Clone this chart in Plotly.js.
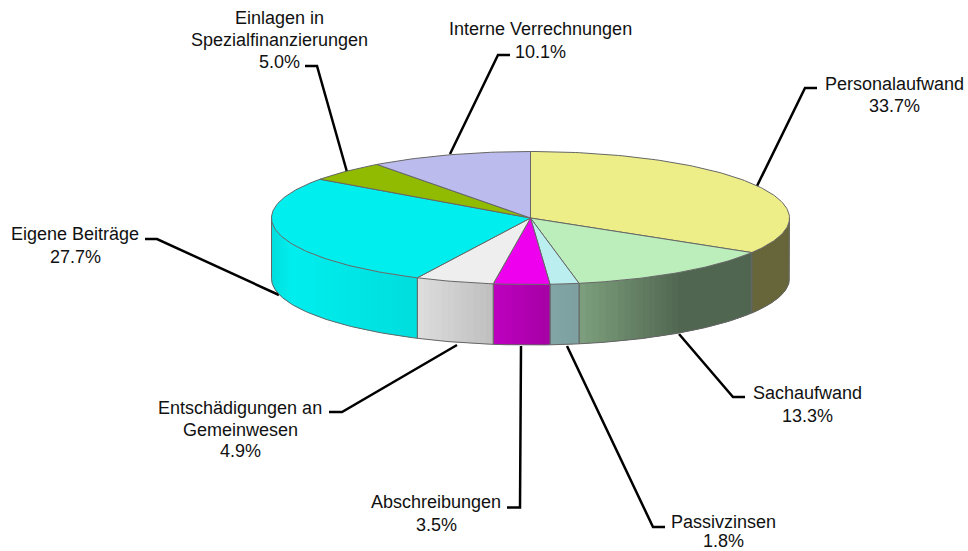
<!DOCTYPE html>
<html>
<head>
<meta charset="utf-8">
<script src="https://cdn.plot.ly/plotly-3.0.1.min.js"></script>
<style>html,body{margin:0;padding:0;background:#fff}#chart{width:968px;height:551px}</style>
</head>
<body>
<div id="chart"></div>
<script>
// Data
const categories = ["Personalaufwand","Sachaufwand","Passivzinsen","Abschreibungen","Entschädigungen an Gemeinwesen","Eigene Beiträge","Einlagen in Spezialfinanzierungen","Interne Verrechnungen"];
const shares = [33.7,13.3,1.8,3.5,4.9,27.7,5.0,10.1];
const labelLines = [["Personalaufwand"],["Sachaufwand"],["Passivzinsen"],["Abschreibungen"],["Entschädigungen an","Gemeinwesen"],["Eigene Beiträge"],["Einlagen in","Spezialfinanzierungen"],["Interne Verrechnungen"]];
const topColors = ["#eeee88","#bbeebb","#bbeeee","#ee00ee","#eeeeee","#00eeee","#90bb00","#bbbbee"];

// Layout of the drawing, in pixel-scaled axis units
const cx = 530.5, cy = 218, rx = 259, ry = 66.5, depth = 60.5;
const labelX = [894,807,723,436,240,75,279,540];
const labelY = [[84,106],[393,416],[522,541],[502,525],[408,430,451],[234,257],[18,40,62],[29,52]];
const leaderPaths = [
  [[757,186],[805,88],[817,88]],
  [[679,334],[733,397],[745,397]],
  [[567,346],[653,527],[665,527]],
  [[521,346],[520,507.5],[507,507.5]],
  [[457,345],[342,412],[329,412]],
  [[279,295],[157,239],[145,239]],
  [[347,172],[317,66],[305,66]],
  [[450,154],[498,55],[510,55]]
];
const shadeX = [272,292,417,494,550,580,680,790];
const shadeF = [0.93,1,0.93,0.80,0.69,0.67,0.43,0.43];
const outline = "#666666";

function px(deg){ return cx + rx*Math.sin(deg*Math.PI/180); }
function py(deg,dy){ return cy - ry*Math.cos(deg*Math.PI/180) + (dy||0); }
function shade(x){
  for(let i=1;i<shadeX.length;i++){
    if(x<=shadeX[i]){ const t=(x-shadeX[i-1])/(shadeX[i]-shadeX[i-1]); return shadeF[i-1]+t*(shadeF[i]-shadeF[i-1]); }
  }
  return shadeF[shadeF.length-1];
}
function scaled(hex,f){
  const n=parseInt(hex.slice(1),16);
  return "rgb("+[(n>>16)&255,(n>>8)&255,n&255].map(c=>Math.round(c*f)).join(",")+")";
}
function arc(a0,a1){ const out=[]; const n=Math.max(1,Math.ceil(Math.abs(a1-a0))); for(let i=0;i<=n;i++) out.push(a0+(a1-a0)*i/n); return out; }

const traces=[];
const total = shares.reduce((a,b)=>a+b,0);
let acc=0;
const spans = shares.map(v=>{ const a0=acc/total*360; acc+=v; return [a0,acc/total*360]; });

// Side walls: shaded strips, only where the wall faces the viewer.
// Each strip runs on to the next one's far edge, so the next covers it without a seam.
spans.forEach((s,i)=>{
  const a0=Math.max(s[0],90), a1=Math.min(s[1],270);
  if(a1<=a0) return;
  const n=Math.ceil((a1-a0)/1.5);
  for(let k=0;k<n;k++){
    const b0=a0+(a1-a0)*k/n, b1=a0+(a1-a0)*(k+1)/n, b2=a0+(a1-a0)*Math.min(k+2,n)/n;
    const col=scaled(topColors[i],shade((px(b0)+px(b1))/2));
    const arcA=arc(b0,b2);
    const xs=arcA.map(px).concat(arcA.slice().reverse().map(px));
    const ys=arcA.map(a=>py(a)).concat(arcA.slice().reverse().map(a=>py(a,depth)));
    traces.push({type:"scatter",mode:"none",x:xs,y:ys,fill:"toself",fillcolor:col,hoverinfo:"skip"});
  }
  const arcA=arc(a0,a1);
  const ox=[px(a0)].concat(arcA.map(px),[px(a1)]);
  const oy=[py(a0)].concat(arcA.map(a=>py(a,depth)),[py(a1)]);
  traces.push({type:"scatter",mode:"lines",x:ox,y:oy,line:{color:outline,width:1},hoverinfo:"skip"});
});

// Top face
spans.forEach((s,i)=>{
  const arcA=arc(s[0],s[1]);
  const xs=[cx].concat(arcA.map(px),[cx]);
  const ys=[cy].concat(arcA.map(a=>py(a)),[cy]);
  traces.push({type:"scatter",mode:"lines",name:categories[i],x:xs,y:ys,fill:"toself",fillcolor:topColors[i],line:{color:outline,width:1},hoverinfo:"skip"});
});

// Labels, one annotation per text line so the line spacing follows the reference
const annotations = [];
labelLines.forEach((lines,i)=>{
  lines.concat([shares[i].toFixed(1)+"%"]).forEach((t,j)=>{
    annotations.push({
      xref:"x",yref:"y",x:labelX[i],y:labelY[i][j],xanchor:"center",yanchor:"middle",align:"center",showarrow:false,borderpad:0,
      text:t,
      font:{family:"Liberation Sans, Arial, sans-serif",size:18,color:"#111111"}
    });
  });
});

const shapes = leaderPaths.map(p=>({
  type:"path",xref:"x",yref:"y",layer:"below",
  path:p.map((q,j)=>(j?"L":"M")+q[0]+" "+q[1]).join(" "),
  line:{color:"#000000",width:2.5}
}));

Plotly.newPlot("chart",traces,{
  width:968,height:551,margin:{l:0,r:0,t:0,b:0},
  paper_bgcolor:"#ffffff",plot_bgcolor:"#ffffff",showlegend:false,hovermode:false,
  xaxis:{range:[0,968],visible:false,fixedrange:true},
  yaxis:{range:[551,0],visible:false,fixedrange:true},
  annotations:annotations,shapes:shapes
},{displayModeBar:false,staticPlot:true});
</script>
</body>
</html>
